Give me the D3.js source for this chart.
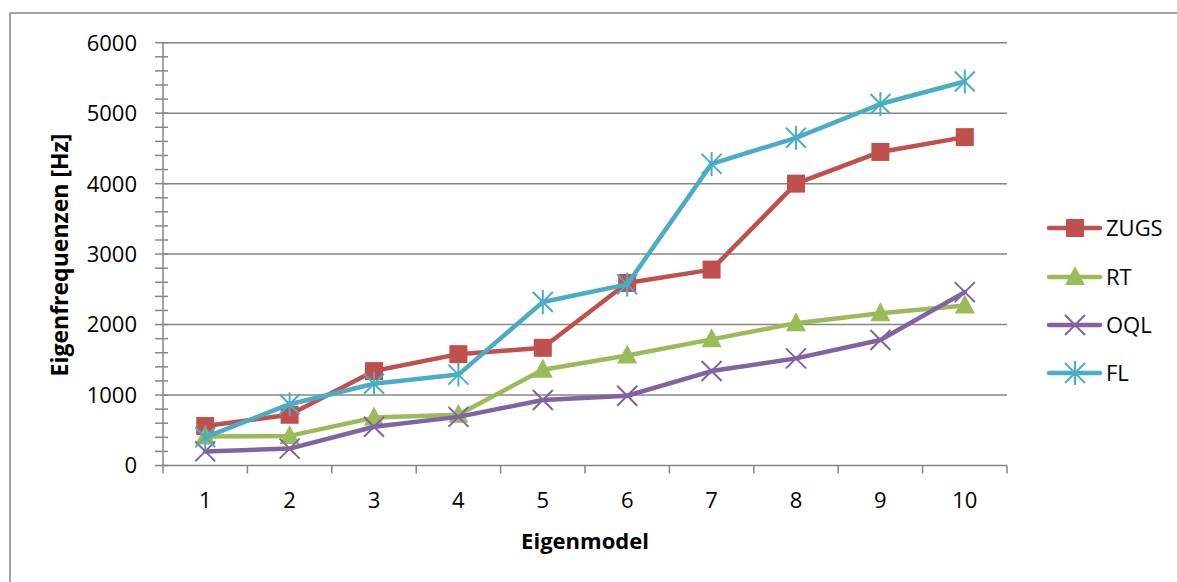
<!DOCTYPE html>
<html>
<head>
<meta charset="utf-8">
<script src="https://cdn.jsdelivr.net/npm/d3@7"></script>
<style>
  html, body { margin: 0; padding: 0; background: #fff; }
  svg { display: block; }
  text { font-family: "Open Sans", "Noto Sans", sans-serif; fill: #000; }
</style>
</head>
<body>
<svg id="chart" width="1177" height="582"></svg>
<script>
// Eigenfrequencies of the first ten modes for four configurations
const modes = [1, 2, 3, 4, 5, 6, 7, 8, 9, 10];
const seriesNames = ["ZUGS", "RT", "OQL", "FL"];
const zugs = [560, 720, 1340, 1580, 1670, 2590, 2780, 4000, 4450, 4660];
const rt   = [410, 420, 680, 720, 1360, 1560, 1790, 2020, 2160, 2270];
const oql  = [200, 240, 550, 690, 930, 990, 1340, 1520, 1780, 2460];
const fl   = [400, 870, 1160, 1290, 2320, 2570, 4280, 4650, 5130, 5450];
const yTicks = [0, 1000, 2000, 3000, 4000, 5000, 6000];
const yMinorStep = 200;

const colors = { ZUGS: "#C0504D", RT: "#9BBB59", OQL: "#8064A2", FL: "#4BACC6" };
const markers = { ZUGS: "square", RT: "triangle", OQL: "cross", FL: "star" };
const valuesBy = { ZUGS: zugs, RT: rt, OQL: oql, FL: fl };

const svg = d3.select("#chart");
const axisColor = "#868686";

// chart frame (open to the right and bottom edges of the page)
svg.append("rect")
  .attr("x", 10).attr("y", 13)
  .attr("width", 1200).attr("height", 600)
  .attr("fill", "none").attr("stroke", axisColor).attr("stroke-width", 1.5);

const plot = { left: 163, right: 1007, top: 42.7, bottom: 465.5 };

const x = d3.scaleBand().domain(modes).range([plot.left, plot.right]);
const y = d3.scaleLinear().domain([0, 6000]).range([plot.bottom, plot.top]);

// horizontal gridlines
svg.append("g").selectAll("line")
  .data(yTicks.filter(d => d > 0))
  .join("line")
  .attr("x1", plot.left).attr("x2", plot.right)
  .attr("y1", d => y(d)).attr("y2", d => y(d))
  .attr("stroke", axisColor).attr("stroke-width", 1.5);

// y axis with major and minor cross ticks
const minorTicks = d3.range(0, 6000 + 1, yMinorStep);
const yAxisG = svg.append("g");
yAxisG.selectAll("line.tick")
  .data(minorTicks)
  .join("line")
  .attr("x1", plot.left - 8).attr("x2", plot.left + 5)
  .attr("y1", d => y(d)).attr("y2", d => y(d))
  .attr("stroke", axisColor).attr("stroke-width", 1.5);
yAxisG.append("line")
  .attr("x1", plot.left).attr("x2", plot.left)
  .attr("y1", plot.top).attr("y2", plot.bottom)
  .attr("stroke", axisColor).attr("stroke-width", 1.5);
yAxisG.selectAll("text")
  .data(yTicks)
  .join("text")
  .attr("x", 137).attr("y", d => y(d))
  .attr("dy", "0.36em")
  .attr("text-anchor", "end")
  .attr("font-size", 22)
  .text(d => d);

// x axis
const xAxisG = svg.append("g");
xAxisG.append("line")
  .attr("x1", plot.left).attr("x2", plot.right)
  .attr("y1", plot.bottom).attr("y2", plot.bottom)
  .attr("stroke", axisColor).attr("stroke-width", 1.5);
const boundaries = modes.map(m => x(m)).concat([x(modes[modes.length - 1]) + x.bandwidth()]);
xAxisG.selectAll("line.tick")
  .data(boundaries)
  .join("line")
  .attr("x1", d => d).attr("x2", d => d)
  .attr("y1", plot.bottom).attr("y2", plot.bottom + 8)
  .attr("stroke", axisColor).attr("stroke-width", 1.5);
xAxisG.selectAll("text")
  .data(modes)
  .join("text")
  .attr("x", d => x(d) + x.bandwidth() / 2)
  .attr("y", 508)
  .attr("text-anchor", "middle")
  .attr("font-size", 22)
  .text(d => d);

// axis titles
svg.append("text")
  .attr("x", 585).attr("y", 549)
  .attr("text-anchor", "middle")
  .attr("font-size", 22).attr("font-weight", "bold")
  .text("Eigenmodel");
svg.append("text")
  .attr("transform", "translate(68,255) rotate(-90)")
  .attr("text-anchor", "middle")
  .attr("font-size", 23).attr("font-weight", "bold")
  .text("Eigenfrequenzen [Hz]");

// marker drawing
function drawMarker(g, type, color) {
  if (type === "square") {
    g.append("rect").attr("x", -9).attr("y", -9).attr("width", 18).attr("height", 18)
      .attr("fill", color);
  } else if (type === "triangle") {
    g.append("path").attr("d", "M0,-11 L10,8 L-10,8 Z").attr("fill", color);
  } else if (type === "cross") {
    g.append("path").attr("d", "M-10,-10 L10,10 M-10,10 L10,-10")
      .attr("stroke", color).attr("stroke-width", 2).attr("fill", "none");
  } else if (type === "star") {
    g.append("path").attr("d", "M-10,-10 L10,10 M-10,10 L10,-10 M0,-12 L0,12")
      .attr("stroke", color).attr("stroke-width", 2).attr("fill", "none");
  }
}

const line = d3.line()
  .x((d, i) => x(modes[i]) + x.bandwidth() / 2)
  .y(d => y(d));

seriesNames.forEach(name => {
  const vals = valuesBy[name];
  const g = svg.append("g");
  g.append("path")
    .attr("d", line(vals))
    .attr("fill", "none")
    .attr("stroke", colors[name])
    .attr("stroke-width", 4.5)
    .attr("stroke-linejoin", "round")
    .attr("stroke-linecap", "round");
  vals.forEach((v, i) => {
    const mg = g.append("g")
      .attr("transform", `translate(${x(modes[i]) + x.bandwidth() / 2},${y(v)})`);
    drawMarker(mg, markers[name], colors[name]);
  });
});

// legend
const legendY = [228, 277, 325, 373];
seriesNames.forEach((name, i) => {
  const g = svg.append("g").attr("transform", `translate(0,${legendY[i]})`);
  g.append("line")
    .attr("x1", 1049).attr("x2", 1100)
    .attr("y1", 0).attr("y2", 0)
    .attr("stroke", colors[name]).attr("stroke-width", 4.5)
    .attr("stroke-linecap", "round");
  const mg = g.append("g").attr("transform", "translate(1075,0)");
  drawMarker(mg, markers[name], colors[name]);
  g.append("text")
    .attr("x", 1106).attr("y", 0).attr("dy", "0.36em")
    .attr("font-size", 22)
    .text(name);
});
</script>
</body>
</html>
